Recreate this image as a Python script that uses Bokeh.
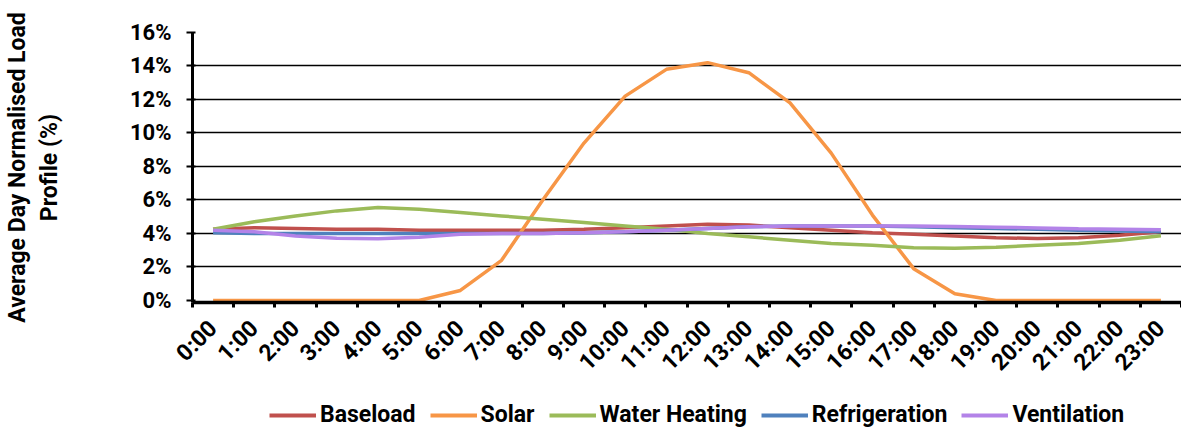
import math
import numpy as np
from bokeh.plotting import figure
from bokeh.layouts import column
from bokeh.models import Range1d, FixedTicker, Legend, LegendItem, PrintfTickFormatter
from bokeh.embed import file_html
from bokeh.resources import INLINE

hours = ["0:00", "1:00", "2:00", "3:00", "4:00", "5:00", "6:00", "7:00", "8:00", "9:00",
         "10:00", "11:00", "12:00", "13:00", "14:00", "15:00", "16:00", "17:00", "18:00",
         "19:00", "20:00", "21:00", "22:00", "23:00"]

baseload = [4.25, 4.35, 4.3, 4.25, 4.25, 4.2, 4.2, 4.2, 4.2, 4.25, 4.35, 4.45, 4.55, 4.5,
            4.35, 4.2, 4.05, 3.95, 3.85, 3.75, 3.7, 3.75, 3.9, 4.1]
solar = [0.0, 0.0, 0.0, 0.0, 0.0, 0.0, 0.6, 2.4, 6.0, 9.4, 12.2, 13.8, 14.2, 13.6,
         11.8, 8.8, 5.1, 1.9, 0.4, 0.0, 0.0, 0.0, 0.0, 0.0]
water_heating = [4.25, 4.7, 5.05, 5.35, 5.55, 5.45, 5.25, 5.05, 4.85, 4.65, 4.45, 4.25,
                 4.0, 3.8, 3.6, 3.4, 3.3, 3.15, 3.12, 3.18, 3.3, 3.4, 3.6, 3.87]
refrigeration = [4.05, 4.0, 4.0, 4.0, 4.0, 4.0, 4.0, 4.0, 4.0, 4.05, 4.1, 4.2, 4.3, 4.4,
                 4.45, 4.45, 4.45, 4.4, 4.35, 4.3, 4.25, 4.2, 4.15, 4.1]
ventilation = [4.2, 4.1, 3.85, 3.72, 3.68, 3.78, 3.95, 4.0, 4.0, 4.05, 4.1, 4.2, 4.3, 4.4,
               4.45, 4.45, 4.45, 4.45, 4.42, 4.38, 4.33, 4.28, 4.25, 4.22]

series = [
    ("Baseload", baseload, "#C0504D"),
    ("Solar", solar, "#F79646"),
    ("Water Heating", water_heating, "#9BBB59"),
    ("Refrigeration", refrigeration, "#4F81BD"),
    ("Ventilation", ventilation, "#B383E8"),
]

FONT = "Roboto"
x = np.arange(len(hours))

p = figure(width=1181, height=392, output_backend="svg", toolbar_location=None,
           x_range=Range1d(-0.5, len(hours) - 0.5), y_range=Range1d(-0.12, 16),
           min_border_left=191, min_border_right=0, min_border_top=32, min_border_bottom=90)
p.outline_line_color = None
p.background_fill_color = "white"

for name, vals, col in series:
    p.line(x, vals, line_color=col, line_width=3.5)

# y axis
p.yaxis.ticker = FixedTicker(ticks=list(range(0, 17, 2)))
p.yaxis.formatter = PrintfTickFormatter(format="%d%%")
p.yaxis.axis_line_width = 3
p.yaxis.axis_line_color = "black"
p.yaxis.major_tick_in = 3
p.yaxis.major_tick_out = 6
p.yaxis.major_tick_line_width = 2
p.yaxis.minor_tick_line_color = None
p.yaxis.major_label_text_font = FONT
p.yaxis.major_label_text_font_style = "bold"
p.yaxis.major_label_text_font_size = "22px"
p.yaxis.major_label_text_color = "black"
p.yaxis.major_label_standoff = 15
p.yaxis.axis_label = "Average Day Normalised Load\nProfile (%)"
p.yaxis.axis_label_text_font = FONT
p.yaxis.axis_label_text_font_style = "bold"
p.yaxis.axis_label_text_font_size = "23px"
p.yaxis.axis_label_text_color = "black"
p.yaxis.axis_label_standoff = 64
p.yaxis.axis_label_text_align = "center"

# x axis
p.xaxis.ticker = FixedTicker(ticks=list(x), minor_ticks=[i - 0.5 for i in range(len(hours) + 1)])
p.xaxis.major_label_overrides = {int(i): h for i, h in zip(x, hours)}
p.xaxis.major_label_orientation = math.pi / 4
p.xaxis.major_tick_in = 0
p.xaxis.major_tick_out = 0
p.xaxis.minor_tick_in = 0
p.xaxis.minor_tick_out = 5
p.xaxis.minor_tick_line_width = 3
p.xaxis.minor_tick_line_color = "black"
p.xaxis.axis_line_width = 3.5
p.xaxis.axis_line_color = "black"
p.xaxis.major_label_text_font = FONT
p.xaxis.major_label_text_font_style = "bold"
p.xaxis.major_label_text_font_size = "23px"
p.xaxis.major_label_text_color = "black"
p.xaxis.major_label_standoff = 17

p.xgrid.grid_line_color = None
p.ygrid.ticker = FixedTicker(ticks=list(range(2, 17, 2)))
p.ygrid.grid_line_color = "black"
p.ygrid.grid_line_width = 1.5

# legend strip: same series, drawn outside its visible range, only the legend shows
lg = figure(width=1181, height=40, output_backend="svg", toolbar_location=None,
            x_range=Range1d(-0.5, len(hours) - 0.5), y_range=Range1d(100, 101),
            x_axis_type=None, y_axis_type=None, min_border=0)
lg.grid.visible = False
lg.outline_line_color = None
items = []
for name, vals, col in series:
    r = lg.line(x, vals, line_color=col, line_width=4)
    items.append(LegendItem(label=name, renderers=[r]))
legend = Legend(items=items, orientation="horizontal", location=(77, 4),
                label_text_font=FONT, label_text_font_style="bold",
                label_text_font_size="23px", label_text_color="black",
                glyph_width=47, label_standoff=4, spacing=14, padding=0, margin=0,
                border_line_color=None, background_fill_alpha=0)
lg.add_layout(legend, "center")

layout = column(p, lg, spacing=0)
open("out.html", "w").write(file_html(layout, INLINE))
